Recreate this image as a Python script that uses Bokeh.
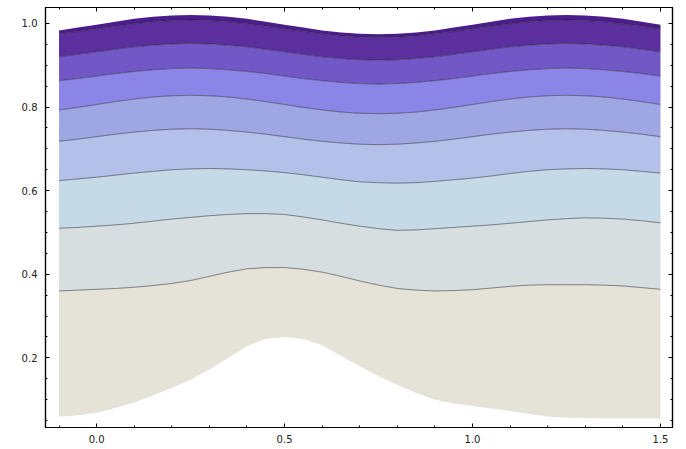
from bokeh.plotting import figure
from bokeh.models import (ColumnDataSource, Range1d, FixedTicker, LinearAxis,
                          PrintfTickFormatter, CustomJSTickFormatter)
from bokeh.embed import file_html
from bokeh.resources import INLINE

# sample positions along x
xs = [-0.1, -0.05, 0.0, 0.05, 0.1, 0.15, 0.2, 0.25, 0.3, 0.35, 0.4, 0.45, 0.5,
      0.55, 0.6, 0.65, 0.7, 0.75, 0.8, 0.85, 0.9, 0.95, 1.0, 1.05, 1.1, 1.15,
      1.2, 1.25, 1.3, 1.35, 1.4, 1.45, 1.5]

# boundaries of the filled contour bands, top to bottom
top_edge = [0.983, 0.990, 0.997, 1.004, 1.011, 1.016, 1.019, 1.020, 1.019, 1.016, 1.011, 1.004, 0.997,
            0.990, 0.983, 0.978, 0.975, 0.974, 0.975, 0.978, 0.983, 0.990, 0.997, 1.004, 1.011, 1.016,
            1.019, 1.020, 1.019, 1.016, 1.011, 1.004, 0.997]
c1 = [0.975, 0.981, 0.987, 0.993, 0.999, 1.004, 1.007, 1.008, 1.007, 1.004, 0.999, 0.993, 0.987,
      0.981, 0.975, 0.970, 0.967, 0.966, 0.967, 0.970, 0.975, 0.981, 0.987, 0.993, 0.999, 1.004,
      1.007, 1.008, 1.007, 1.004, 0.999, 0.993, 0.987]
c2 = [0.920, 0.926, 0.932, 0.938, 0.944, 0.948, 0.951, 0.952, 0.951, 0.948, 0.944, 0.938, 0.932,
      0.926, 0.920, 0.916, 0.913, 0.912, 0.913, 0.916, 0.920, 0.926, 0.932, 0.938, 0.944, 0.948,
      0.951, 0.952, 0.951, 0.948, 0.944, 0.938, 0.932]
c3 = [0.863, 0.868, 0.874, 0.880, 0.885, 0.889, 0.892, 0.893, 0.892, 0.889, 0.885, 0.880, 0.874,
      0.868, 0.863, 0.859, 0.856, 0.855, 0.856, 0.859, 0.863, 0.868, 0.874, 0.880, 0.885, 0.889,
      0.892, 0.893, 0.892, 0.889, 0.885, 0.880, 0.874]
c4 = [0.793, 0.799, 0.806, 0.813, 0.819, 0.824, 0.827, 0.828, 0.827, 0.824, 0.819, 0.813, 0.806,
      0.799, 0.793, 0.788, 0.785, 0.784, 0.785, 0.788, 0.793, 0.799, 0.806, 0.813, 0.819, 0.824,
      0.827, 0.828, 0.827, 0.824, 0.819, 0.813, 0.806]
c5 = [0.718, 0.723, 0.729, 0.735, 0.740, 0.744, 0.747, 0.748, 0.747, 0.744, 0.740, 0.735, 0.729,
      0.723, 0.718, 0.714, 0.711, 0.710, 0.711, 0.714, 0.718, 0.723, 0.729, 0.735, 0.740, 0.744,
      0.747, 0.748, 0.747, 0.744, 0.740, 0.735, 0.729]
c6 = [0.624, 0.628, 0.632, 0.637, 0.642, 0.646, 0.650, 0.652, 0.653, 0.652, 0.650, 0.647, 0.643,
      0.638, 0.632, 0.626, 0.621, 0.619, 0.618, 0.619, 0.622, 0.626, 0.630, 0.635, 0.641, 0.646,
      0.650, 0.652, 0.653, 0.652, 0.650, 0.646, 0.642]
c7 = [0.510, 0.512, 0.515, 0.518, 0.522, 0.527, 0.532, 0.536, 0.540, 0.543, 0.545, 0.545, 0.543,
      0.537, 0.530, 0.522, 0.515, 0.509, 0.505, 0.506, 0.509, 0.512, 0.515, 0.518, 0.522, 0.526,
      0.530, 0.533, 0.535, 0.534, 0.532, 0.528, 0.523]
c8 = [0.360, 0.362, 0.364, 0.366, 0.369, 0.373, 0.378, 0.385, 0.395, 0.405, 0.413, 0.416, 0.416,
      0.412, 0.405, 0.395, 0.384, 0.374, 0.366, 0.362, 0.360, 0.361, 0.363, 0.367, 0.371, 0.374,
      0.375, 0.375, 0.375, 0.374, 0.372, 0.368, 0.364]
bottom_edge = [0.059, 0.063, 0.069, 0.080, 0.093, 0.110, 0.128, 0.148, 0.172, 0.200, 0.228, 0.245, 0.250,
               0.245, 0.230, 0.205, 0.180, 0.156, 0.135, 0.116, 0.100, 0.091, 0.085, 0.079, 0.073, 0.066,
               0.060, 0.057, 0.056, 0.055, 0.055, 0.055, 0.055]

band_colors = ["#4b1c8a", "#5c2f9e", "#7258c6", "#8b85e8", "#9ea6e3",
               "#b3c1ea", "#c6d9e6", "#d6dee0", "#e5e3d8"]

x_major = [0.0, 0.5, 1.0, 1.5]
x_minor = [-0.1, 0.1, 0.2, 0.3, 0.4, 0.6, 0.7, 0.8, 0.9, 1.1, 1.2, 1.3, 1.4]
y_major = [0.2, 0.4, 0.6, 0.8, 1.0]
y_minor = [0.05, 0.1, 0.15, 0.25, 0.3, 0.35, 0.45, 0.5, 0.55, 0.65, 0.7, 0.75,
           0.85, 0.9, 0.95]

bounds = [top_edge, c1, c2, c3, c4, c5, c6, c7, c8, bottom_edge]
data = {"x": xs}
for i, b in enumerate(bounds):
    data[f"b{i}"] = b
src = ColumnDataSource(data)

p = figure(width=686, height=449, output_backend="svg", toolbar_location=None,
           x_range=Range1d(-0.136, 1.532), y_range=Range1d(0.0335, 1.038),
           min_border_left=45, min_border_right=14, min_border_top=7,
           min_border_bottom=22, x_axis_location=None, y_axis_location=None)
p.grid.visible = False
p.outline_line_color = "black"
p.outline_line_width = 1.2
p.background_fill_color = "white"
p.border_fill_color = "white"

for i in range(9):
    p.varea(x="x", y1=f"b{i}", y2=f"b{i+1}", source=src,
            fill_color=band_colors[i])

for i in range(1, 9):
    p.line(x="x", y=f"b{i}", source=src, line_color="#1a1a24",
           line_alpha=0.5, line_width=1)

empty = CustomJSTickFormatter(code="return ''")

def style(ax, show):
    ax.axis_line_color = "black"
    ax.axis_line_width = 1.2
    ax.major_tick_in = 4
    ax.major_tick_out = 0
    ax.minor_tick_in = 2
    ax.minor_tick_out = 0
    ax.major_tick_line_color = "black"
    ax.minor_tick_line_color = "black"
    ax.major_label_text_font = "DejaVu Sans"
    ax.major_label_text_font_size = "10px"
    ax.major_label_text_color = "#222222"
    if not show:
        ax.formatter = empty
        ax.major_label_standoff = 0

xb = LinearAxis(ticker=FixedTicker(ticks=x_major, minor_ticks=x_minor),
                formatter=PrintfTickFormatter(format="%.1f"))
style(xb, True)
xb.major_label_standoff = 7
p.add_layout(xb, "below")

yl = LinearAxis(ticker=FixedTicker(ticks=y_major, minor_ticks=y_minor),
                formatter=PrintfTickFormatter(format="%.1f"))
style(yl, True)
yl.major_label_standoff = 8
p.add_layout(yl, "left")

xt = LinearAxis(ticker=FixedTicker(ticks=x_major, minor_ticks=x_minor))
style(xt, False)
p.add_layout(xt, "above")

yr = LinearAxis(ticker=FixedTicker(ticks=y_major, minor_ticks=y_minor))
style(yr, False)
p.add_layout(yr, "right")

open("out.html", "w").write(file_html(p, INLINE))
